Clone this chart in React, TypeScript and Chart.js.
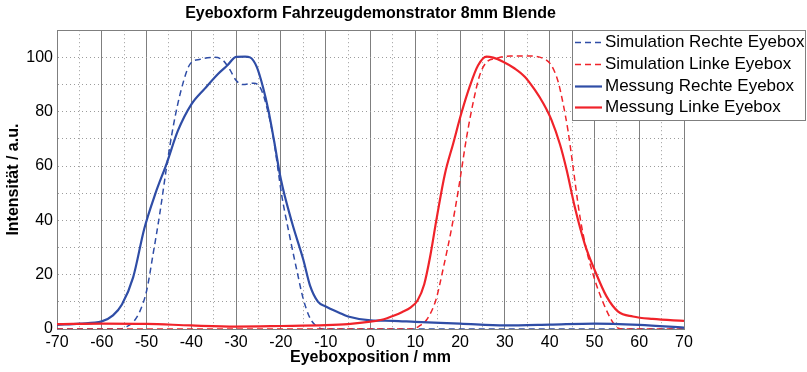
import React, { useEffect, useRef } from 'react';
import { Chart, registerables } from 'chart.js';

Chart.register(...registerables);

const FONT = "'Liberation Sans', Arial, Helvetica, sans-serif";
const BLUE = '#2F4DA6';
const RED = '#F0232A';
const AXIS_GRAY = '#7f7f7f';
const DOT_GRAY = '#9c9c9c';

const TITLE = 'Eyeboxform Fahrzeugdemonstrator 8mm Blende';
const X_TITLE = 'Eyeboxposition / mm';
const Y_TITLE = 'Intensität / a.u.';

// Simulation, right eyebox
const simRechteX = [-70, -56, -54.5, -53, -51.5, -50, -48.5, -47, -45.5, -44, -42.2, -40.3, -38, -35, -33, -31.4, -30, -28.5, -26, -24.5, -23.2, -21.7, -19.8, -18.4, -16.5, -15, -13.5, -12, -10.5, 70];
const simRechteY = [0, 0, 0.8, 2.5, 6.5, 14, 28, 43, 60, 75, 88.5, 97.5, 99.3, 100, 99, 95.5, 91.5, 90, 90.5, 88.5, 82, 70.5, 49, 37, 22, 11, 4, 1, 0, 0];

// Simulation, left eyebox
const simLinkeX = [-70, 9.5, 11, 12.5, 14.6, 16.2, 18.1, 19.6, 21.5, 23, 24.4, 25.9, 28.1, 31.2, 34.9, 38.6, 40.4, 41.9, 43, 44.1, 45.2, 46.7, 48.2, 50.1, 52, 53.8, 55.3, 56.5, 70];
const simLinkeY = [0, 0, 1.2, 3.3, 10.7, 22, 37, 51, 71, 84, 93.5, 98.2, 99.6, 100.5, 100.5, 99.6, 97, 91, 83, 73, 60, 42, 29.3, 18, 9.5, 3.3, 0.3, 0, 0];

// Measurement, right eyebox
const messRechteX = [-70, -65, -60, -57.5, -55.5, -53, -50.5, -48, -45.5, -43, -40, -37, -34, -32, -30, -28, -26.9, -25.4, -24, -22.8, -21.5, -20, -17.5, -15, -13.5, -11.7, -10, -7, -5, 0, 5, 10, 20, 30, 40, 50, 60, 70];
const messRechteY = [1.5, 2, 2.8, 5, 9, 19, 37, 50, 61, 73, 82.7, 88.5, 94, 97, 100.2, 100.3, 100, 96.5, 89, 80.5, 69, 55, 39, 25.5, 16, 10, 8.3, 6, 4.6, 3.2, 3, 2.6, 2, 1.3, 1.6, 2, 1.5, 0.5];

// Measurement, left eyebox
const messLinkeX = [-70, -60, -50, -40, -30, -20, -10, -5, 0, 3, 5, 7, 9, 10.5, 12, 13.3, 14.8, 16.6, 18.5, 20.3, 22.2, 24, 25.9, 27.4, 29.6, 32.2, 34.5, 36.7, 38.6, 40.4, 42.3, 43.8, 45.6, 47.9, 50.1, 52.7, 55.3, 58.6, 63, 70];
const messLinkeY = [1.8, 2.0, 1.9, 1.3, 0.9, 1.1, 1.4, 1.8, 2.7, 3.6, 4.8, 6.2, 8.0, 10.5, 16.5, 26.5, 41, 57, 68.5, 79.5, 89.5, 97, 100.3, 99.9, 98.4, 95.9, 92.8, 88, 83, 77, 68, 58.5, 45, 31, 21.5, 12, 6.4, 4.6, 3.7, 3.0];

const X_MIN = -70;
const X_MAX = 70;
const Y_MIN = 0;
const Y_MAX = 110;

const toPoints = (xs: number[], ys: number[]) => xs.map((x, i) => ({ x, y: ys[i] }));

// Boxed legend in the upper right corner, reaching past the plot area
const legendPanel = {
  id: 'legendPanel',
  afterDraw(chart: any) {
    const { ctx, chartArea } = chart;
    const left = chartArea.right - 112;
    const top = chartArea.top;
    const right = chart.width - 1;
    const height = 90;
    const rowH = 21.7;
    ctx.save();
    ctx.fillStyle = '#ffffff';
    ctx.fillRect(left, top, right - left, height);
    ctx.strokeStyle = AXIS_GRAY;
    ctx.lineWidth = 1;
    ctx.setLineDash([]);
    ctx.strokeRect(Math.round(left) + 0.5, Math.round(top) + 0.5, Math.round(right - left) - 1, height);
    chart.data.datasets.forEach((ds: any, i: number) => {
      const y = Math.round(top + 12 + i * rowH) + 0.5;
      ctx.beginPath();
      ctx.setLineDash(ds.borderDash || []);
      ctx.strokeStyle = ds.borderColor;
      ctx.lineWidth = ds.borderWidth;
      ctx.moveTo(left + 3, y);
      ctx.lineTo(left + 30, y);
      ctx.stroke();
      ctx.setLineDash([]);
      ctx.fillStyle = '#000000';
      ctx.font = `17px ${FONT}`;
      ctx.textBaseline = 'middle';
      ctx.textAlign = 'left';
      ctx.fillText(ds.label, left + 33, y);
    });
    ctx.restore();
  },
};

export default function App() {
  const canvasRef = useRef<HTMLCanvasElement | null>(null);

  useEffect(() => {
    const canvas = canvasRef.current;
    if (!canvas) return;
    const chart = new Chart(canvas, {
      type: 'line',
      data: {
        datasets: [
          {
            label: 'Simulation Rechte Eyebox',
            data: toPoints(simRechteX, simRechteY),
            borderColor: BLUE,
            borderWidth: 1.5,
            borderDash: [6, 4],
            pointRadius: 0,
            cubicInterpolationMode: 'monotone',
            xAxisID: 'x',
            yAxisID: 'y',
            order: 4,
          },
          {
            label: 'Simulation Linke Eyebox',
            data: toPoints(simLinkeX, simLinkeY),
            borderColor: RED,
            borderWidth: 1.5,
            borderDash: [6, 4],
            pointRadius: 0,
            cubicInterpolationMode: 'monotone',
            xAxisID: 'x',
            yAxisID: 'y',
            order: 3,
          },
          {
            label: 'Messung Rechte Eyebox',
            data: toPoints(messRechteX, messRechteY),
            borderColor: BLUE,
            borderWidth: 2.2,
            pointRadius: 0,
            cubicInterpolationMode: 'monotone',
            xAxisID: 'x',
            yAxisID: 'y',
            order: 2,
          },
          {
            label: 'Messung Linke Eyebox',
            data: toPoints(messLinkeX, messLinkeY),
            borderColor: RED,
            borderWidth: 2.2,
            pointRadius: 0,
            cubicInterpolationMode: 'monotone',
            xAxisID: 'x',
            yAxisID: 'y',
            order: 1,
          },
        ],
      },
      options: {
        responsive: false,
        animation: false,
        devicePixelRatio: 1,
        layout: { padding: { left: 0, right: 123, top: 0, bottom: 0 } },
        plugins: {
          legend: { display: false },
          tooltip: { enabled: false },
          title: {
            display: true,
            fullSize: false,
            text: TITLE,
            color: '#000000',
            font: { family: FONT, size: 16, weight: 'bold' },
            padding: { top: 4, bottom: 7 },
          },
        },
        scales: {
          x: {
            type: 'linear',
            position: 'bottom',
            min: X_MIN,
            max: X_MAX,
            ticks: {
              stepSize: 10,
              autoSkip: false,
              maxRotation: 0,
              color: '#000000',
              padding: 4,
              font: { family: FONT, size: 16 },
            },
            grid: {
              drawTicks: false,
              lineWidth: 1,
              color: (c: any) =>
                c.tick && (c.tick.value === X_MIN || c.tick.value === X_MAX) ? 'rgba(0,0,0,0)' : AXIS_GRAY,
            },
            border: { display: true, color: AXIS_GRAY },
            title: {
              display: true,
              text: X_TITLE,
              color: '#000000',
              font: { family: FONT, size: 16, weight: 'bold' },
              padding: { top: 0, bottom: 5 },
            },
            afterFit: (s: any) => {
              s.height = 43;
            },
          },
          xMinor: {
            type: 'linear',
            position: 'bottom',
            min: X_MIN,
            max: X_MAX,
            ticks: { display: false, stepSize: 5, autoSkip: false },
            grid: {
              drawTicks: false,
              lineWidth: 1,
              color: (c: any) => (c.tick && c.tick.value % 10 === 0 ? 'rgba(0,0,0,0)' : DOT_GRAY),
            },
            border: { display: false, dash: [1, 3] },
            afterFit: (s: any) => {
              s.height = 0;
            },
          },
          xTop: {
            type: 'linear',
            position: 'top',
            min: X_MIN,
            max: X_MAX,
            ticks: { display: false },
            grid: { display: false, drawTicks: false },
            border: { display: true, color: AXIS_GRAY },
            afterFit: (s: any) => {
              s.height = 0;
            },
          },
          y: {
            type: 'linear',
            position: 'left',
            min: Y_MIN,
            max: Y_MAX,
            ticks: {
              stepSize: 10,
              autoSkip: false,
              color: '#000000',
              padding: 4,
              font: { family: FONT, size: 16 },
              callback: (v: any) => (Number(v) % 20 === 0 ? String(v) : ''),
            },
            grid: {
              drawTicks: false,
              lineWidth: 1,
              color: (c: any) =>
                c.tick && (c.tick.value === Y_MIN || c.tick.value === Y_MAX) ? 'rgba(0,0,0,0)' : DOT_GRAY,
            },
            border: { display: true, color: AXIS_GRAY, dash: [1, 3] },
            title: {
              display: true,
              text: Y_TITLE,
              color: '#000000',
              font: { family: FONT, size: 16, weight: 'bold' },
              padding: { top: 4, bottom: 0 },
            },
            afterFit: (s: any) => {
              s.width = 57;
            },
          },
          yRight: {
            type: 'linear',
            position: 'right',
            min: Y_MIN,
            max: Y_MAX,
            ticks: { display: false },
            grid: { display: false, drawTicks: false },
            border: { display: true, color: AXIS_GRAY },
            afterFit: (s: any) => {
              s.width = 0;
            },
          },
        },
      },
      plugins: [legendPanel],
    } as any);
    return () => chart.destroy();
  }, []);

  return (
    <div style={{ position: 'fixed', left: 0, top: 0, width: 807, height: 372, background: '#ffffff' }}>
      <canvas ref={canvasRef} width={807} height={372} style={{ display: 'block', width: 807, height: 372 }} />
    </div>
  );
}
